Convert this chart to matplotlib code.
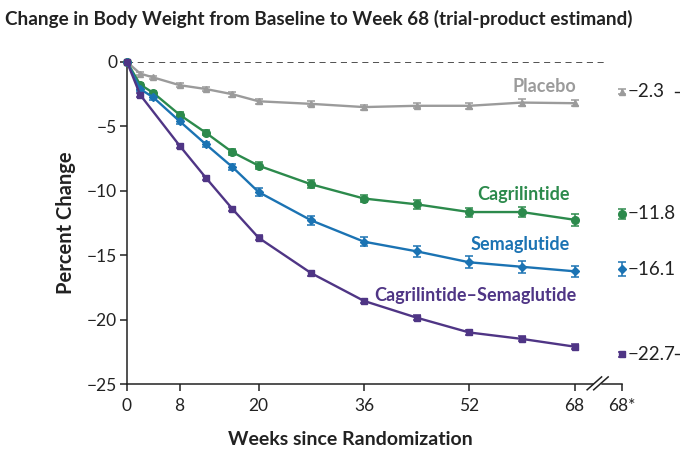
import matplotlib
matplotlib.use('Agg')
import matplotlib.pyplot as plt

# weeks of visits
weeks = [0, 2, 4, 8, 12, 16, 20, 28, 36, 44, 52, 60, 68]
weeks_combo = [0, 2, 8, 12, 16, 20, 28, 36, 44, 52, 60, 68]

placebo = [0, -0.9, -1.2, -1.8, -2.1, -2.5, -3.05, -3.25, -3.5, -3.4, -3.4, -3.15, -3.2]
placebo_err = [0, 0.12, 0.15, 0.15, 0.15, 0.18, 0.18, 0.2, 0.2, 0.2, 0.25, 0.25, 0.25]
cagri = [0, -1.75, -2.4, -4.1, -5.5, -7.0, -8.05, -9.5, -10.6, -11.05, -11.65, -11.65, -12.25]
cagri_err = [0, 0.15, 0.18, 0.2, 0.2, 0.22, 0.25, 0.3, 0.3, 0.35, 0.35, 0.4, 0.45]
sema = [0, -2.1, -2.75, -4.6, -6.4, -8.15, -10.1, -12.3, -13.95, -14.7, -15.55, -15.9, -16.25]
sema_err = [0, 0.15, 0.18, 0.2, 0.22, 0.25, 0.3, 0.35, 0.35, 0.45, 0.45, 0.45, 0.45]
combo = [0, -2.55, -6.5, -9.0, -11.4, -13.65, -16.4, -18.55, -19.85, -21.0, -21.5, -22.1]
combo_err = [0, 0.15, 0.15, 0.15, 0.18, 0.18, 0.18, 0.18, 0.2, 0.2, 0.2, 0.2]

# trial-product estimates at week 68 (right column)
final_vals = [-2.3, -11.8, -16.1, -22.7]
final_err = [0.2, 0.4, 0.55, 0.2]
final_labels = ['\u22122.3', '\u221211.8', '\u221216.1', '\u221222.7']

names = ['Placebo', 'Cagrilintide', 'Semaglutide', 'Cagrilintide\u2013Semaglutide']
colors = ['#9b9b9b', '#2c8a4c', '#1b73b3', '#4f3585']
markers = ['^', 'o', 'D', 's']
msizes = [5, 5.5, 4.5, 4.5]

xticks = [0, 8, 20, 36, 52, 68]
yticks = [0, -5, -10, -15, -20, -25]
X_STAR = 75.2  # position of the "68*" column

plt.rcParams['font.family'] = ['Lato', 'DejaVu Sans']
INK = '#222222'

fig = plt.figure(figsize=(6.8, 4.61), dpi=100)
ax = fig.add_axes([127 / 680, 77 / 461, 495 / 680, 322 / 461])

ax.axhline(0, xmin=0, xmax=73 / X_STAR, color=INK, linestyle=(0, (4, 3)), linewidth=1.1, zorder=1)

series = [(weeks, placebo, placebo_err), (weeks, cagri, cagri_err),
          (weeks, sema, sema_err), (weeks_combo, combo, combo_err)]
for (x, y, e), c, m, ms in zip(series, colors, markers, msizes):
    ax.errorbar(x, y, yerr=e, color=c, marker=m, markersize=ms, linewidth=1.7,
                elinewidth=1.1, capsize=3, capthick=1.1, clip_on=False, zorder=3)

for v, e, c, m, ms, lab in zip(final_vals, final_err, colors, markers, msizes, final_labels):
    ax.errorbar([X_STAR], [v], yerr=[e], color=c, marker=m, markersize=ms,
                elinewidth=1.1, capsize=3, capthick=1.1, clip_on=False, zorder=3)
    ax.text(X_STAR + 0.9, v, lab, color=INK, fontsize=13.5, va='center', ha='left',
            clip_on=False)

# cut-off marks at the right edge of the panel
for v in [final_vals[0], final_vals[3]]:
    ax.plot([83.3, 84.2], [v, v], color=INK, linewidth=1.0, clip_on=False)

# series labels
label_pos = [(68.2, -1.9), (67.3, -10.25), (67.3, -14.2), (68.3, -18.1)]
for (lx, ly), n, c in zip(label_pos, names, colors):
    ax.text(lx, ly, n, color=c, fontsize=13, fontweight='bold', ha='right', va='center')

ax.set_xlim(0, X_STAR)
ax.set_ylim(-25, 0)
ax.set_xticks(xticks + [X_STAR])
ax.set_xticklabels([str(t) for t in xticks] + ['68*'], fontsize=12.5, color=INK)
ax.set_yticks(yticks)
ax.set_yticklabels(['0' if t == 0 else '\u2212' + str(-t) for t in yticks], fontsize=12.5, color=INK)
ax.tick_params(direction='out', length=5, width=1.1, color=INK)
ax.tick_params(axis='x', pad=5)
ax.tick_params(axis='y', pad=2)

for s in ['top', 'right']:
    ax.spines[s].set_visible(False)
ax.spines['left'].set_linewidth(1.1)
ax.spines['left'].set_color(INK)
ax.spines['bottom'].set_visible(False)

# x axis line with a break before 68*
kw = dict(color=INK, linewidth=1.1, clip_on=False, zorder=2)
ax.plot([0, 70.8], [-25, -25], **kw)
ax.plot([72.2, X_STAR], [-25, -25], **kw)
ax.plot([69.9, 72.1], [-25.45, -24.45], **kw)
ax.plot([70.9, 73.1], [-25.45, -24.45], **kw)

ax.set_xlabel('Weeks since Randomization', fontsize=14, fontweight='bold', color=INK)
ax.xaxis.set_label_coords(34 / X_STAR, -0.145)
ax.set_ylabel('Percent Change', fontsize=14.5, fontweight='bold', color=INK, labelpad=8)

fig.text(0.008, 0.958, 'Change in Body Weight from Baseline to Week 68 (trial-product estimand)',
         fontsize=13.6, fontweight='bold', color=INK, ha='left', va='center')

fig.savefig('out.png', dpi=100)
